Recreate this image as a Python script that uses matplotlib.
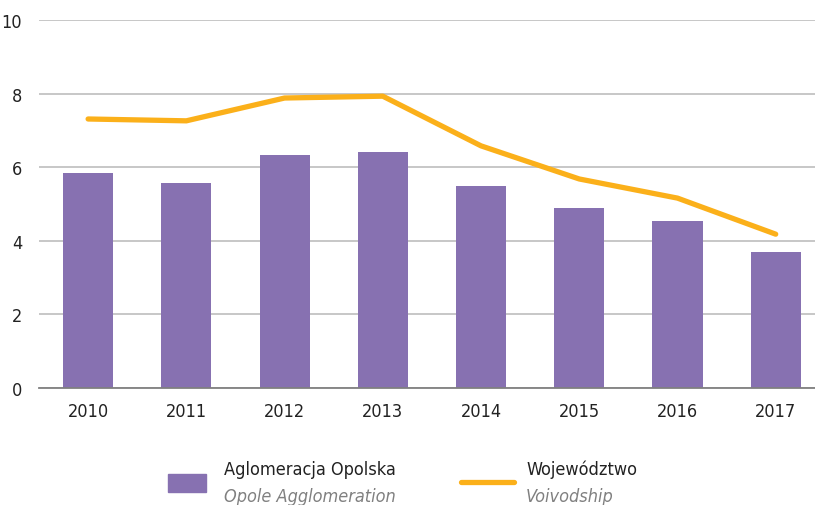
import matplotlib
matplotlib.use('Agg')
import matplotlib.pyplot as plt
from matplotlib.patches import Rectangle
from matplotlib.lines import Line2D

years = ['2010', '2011', '2012', '2013', '2014', '2015', '2016', '2017']
aglomeracja = [5.84, 5.57, 6.33, 6.41, 5.49, 4.89, 4.54, 3.70]
wojewodztwo = [7.31, 7.26, 7.88, 7.93, 6.58, 5.68, 5.16, 4.18]

purple = '#8771b1'
orange = '#fbb01a'

plt.rcParams['font.family'] = ['DejaVu Sans']
plt.rcParams['font.stretch'] = 'condensed'

fig = plt.figure(figsize=(8.15, 5.06), dpi=100)
ax = fig.add_axes([39/815, 1-389/506, 1-39/815, (389-21)/506])

x = range(len(years))
ax.bar(x, aglomeracja, width=0.51, color=purple, zorder=2)
ax.plot(x, wojewodztwo, color=orange, lw=3.8, solid_capstyle='round', zorder=3)

ax.set_xlim(-0.5, 7.4)
ax.set_ylim(0, 10)
ax.set_yticks([0, 2, 4, 6, 8, 10])
ax.set_xticks(list(x))
ax.set_xticklabels(years)
ax.grid(axis='y', color='#bdbdbd', lw=1.2, zorder=0)
for s in ['top', 'right', 'left']:
    ax.spines[s].set_visible(False)
ax.spines['bottom'].set_color('#808080')
ax.spines['bottom'].set_linewidth(1.3)
ax.spines['bottom'].set_zorder(4)
ax.tick_params(axis='both', length=0, labelsize=13, colors='#222222')
ax.tick_params(axis='y', pad=12)
ax.tick_params(axis='x', pad=10)

# legend
fig.add_artist(Rectangle((168/815, 1-493/506), 38/815, 18/506,
                         transform=fig.transFigure, color=purple))
fig.text(224/815, 1-470/506, 'Aglomeracja Opolska', fontsize=13,
         color='#222222', va='center')
fig.text(224/815, 1-497/506, 'Opole Agglomeration', fontsize=13,
         color='#808080', style='italic', va='center')
fig.add_artist(Line2D([461/815, 514/815], [1-483/506, 1-483/506],
                      transform=fig.transFigure, color=orange, lw=3.8,
                      solid_capstyle='round'))
fig.text(526/815, 1-470/506, 'Województwo', fontsize=13,
         color='#222222', va='center')
fig.text(526/815, 1-497/506, 'Voivodship', fontsize=13,
         color='#808080', style='italic', va='center')

fig.savefig('out.png', dpi=100)
